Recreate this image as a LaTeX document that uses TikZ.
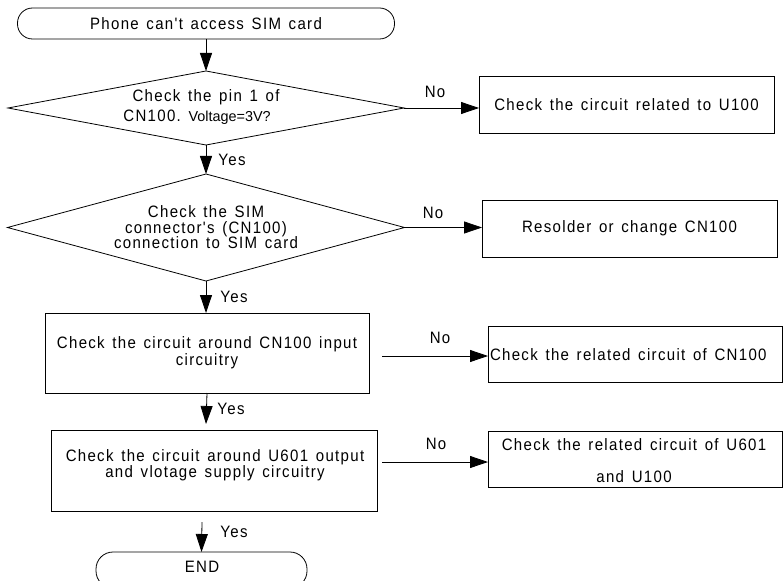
\documentclass[tikz,border=0pt]{standalone}
\usepackage{fontspec}
\setmainfont{Liberation Sans}[Ligatures=TeXOff,FakeStretch=0.91,LetterSpace=8,WordSpace=1.4]
\newfontfamily\plainfont{Liberation Sans}
\usetikzlibrary{shapes.geometric,arrows.meta}
\begin{document}
\begin{tikzpicture}[x=1pt,y=-1pt,line width=0.8pt,
  every node/.style={inner sep=0pt,outer sep=0pt,font=\fontsize{16.5}{18}\selectfont},
  terminal/.style={draw,rectangle,rounded corners=15pt},
  decision/.style={draw,diamond},
  procbox/.style={draw,rectangle},
  lbl/.style={font=\fontsize{16.5}{18}\selectfont},
  arr/.style={-{Triangle[length=18pt,width=12pt]}}]
\useasboundingbox (0,0) rectangle (783,580);
% nodes
\node[terminal,minimum width=377pt,minimum height=31pt] (start) at (206,23.5) {Phone can't access SIM card};
\node[decision,minimum width=396pt,minimum height=74pt] (d1) at (206,108) {};
\node[align=center,font=\fontsize{16.5}{20}\selectfont] (d1t) at (206,107)
  {Check the pin 1 of\\CN100.\ {\plainfont\fontsize{14.4}{20}\selectfont Voltage=3V?}\hspace*{18pt}};
\node[procbox,minimum width=295pt,minimum height=57pt] (r1) at (626.5,104.5) {Check the circuit related to U100};
\node[decision,minimum width=397pt,minimum height=107pt] (d2) at (206,227.5) {};
\node[align=center,font=\fontsize{16.5}{15.5}\selectfont] (d2t) at (206,227.5)
  {Check the SIM\\connector's (CN100)\\connection to SIM card};
\node[procbox,minimum width=295pt,minimum height=57pt] (r2) at (629.5,228.5) {Resolder or change CN100};
\node[procbox,align=center,minimum width=324pt,minimum height=80pt,font=\fontsize{16.5}{17}\selectfont] (b3) at (207,353)
  {Check the circuit around CN100 input\\circuitry};
\node[procbox,minimum width=294pt,minimum height=56pt] (r3) at (635,354) {};
\node[anchor=west] (r3t) at (490,355) {Check the related circuit of CN100};
\node[procbox,minimum width=326pt,minimum height=81pt] (b5) at (214,470.5) {};
\node[align=center,font=\fontsize{16.5}{16}\selectfont] (b5t) at (215,465)
  {Check the circuit around U601 output\\and vlotage supply circuitry};
\node[procbox,minimum width=294pt,minimum height=56pt] (r4) at (635,459) {};
\node[align=center,font=\fontsize{16.5}{32}\selectfont] (r4t) at (634,461)
  {Check the related circuit of U601\\and U100};
\node[terminal,rounded corners=17pt,minimum width=211pt,minimum height=36pt] (end) at (201.5,570) {};
\node (endt) at (202,567) {END};
% labels
\node[lbl] (no1) at (435,92) {No};
\node[lbl] (no2) at (433,213) {No};
\node[lbl] (no3) at (440,338) {No};
\node[lbl] (no4) at (436,444) {No};
\node[lbl] (yes1) at (232,160) {Yes};
\node[lbl] (yes2) at (234,297) {Yes};
\node[lbl] (yes3) at (231,409) {Yes};
\node[lbl] (yes4) at (234,532) {Yes};
% connectors
\coordinate (c3) at (382,356);
\coordinate (c5) at (382,462);
\coordinate (t4) at (206,424);
\coordinate (c6) at (202,522);
\draw[arr] (start.south) -- (d1.north);
\draw[arr] (d1.east) -- (d1.east -| r1.west);
\draw[arr] (d1.south) -- (d2.north);
\draw[arr] (d2.east) -- (d2.east -| r2.west);
\draw[arr] (d2.south) -- (d2.south |- b3.north);
\draw[arr] (c3) -- (c3 -| r3.west);
\draw[arr] (b3.south) -- (t4);
\draw[arr] (c5) -- (c5 -| r4.west);
\draw[arr] (c6) -- (end.north);
\end{tikzpicture}
\end{document}
